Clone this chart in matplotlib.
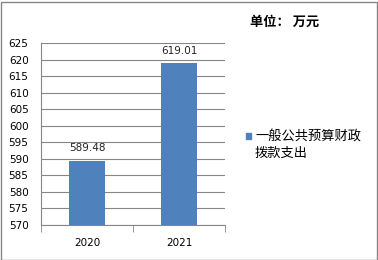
import matplotlib
matplotlib.use("Agg")
import matplotlib.pyplot as plt
from matplotlib.patches import Rectangle

plt.rcParams['font.family'] = ['DejaVu Sans', 'Noto Sans CJK SC']

years = ['2020', '2021']
values = [589.48, 619.01]
series_name = '一般公共预算财政\n拨款支出'
unit_text = '单位： 万元'
y_ticks = list(range(570, 626, 5))

fig = plt.figure(figsize=(3.78, 2.6), dpi=100)
ax = fig.add_axes([41 / 378, 1 - 225 / 260, 184 / 378, 182 / 260])

x = range(len(years))
bars = ax.bar(x, values, width=0.4, color='#4F81BD', zorder=3)
for b, v in zip(bars, values):
    ax.text(b.get_x() + b.get_width() / 2, v + 2.2, '%.2f' % v,
            ha='center', va='bottom', fontsize=7.5, color='#222222')

ax.set_ylim(570, 625)
ax.set_xlim(-0.5, 1.5)
ax.set_yticks(y_ticks)
ax.yaxis.grid(True, color='#868686', linewidth=0.8, zorder=0)
ax.set_xticks(x)
ax.set_xticklabels(years)
ax.set_xticks([-0.5, 0.5, 1.5], minor=True)
ax.tick_params(axis='x', which='major', length=0, pad=9, labelsize=7.5)
ax.tick_params(axis='x', which='minor', length=5, color='#868686')
ax.tick_params(axis='y', length=0, pad=9, labelsize=7.5)
for s in ['top', 'right']:
    ax.spines[s].set_visible(False)
ax.spines['left'].set_color('#868686')
ax.spines['bottom'].set_color('#868686')

# legend
fig.patches.append(Rectangle((246 / 378, 1 - 139 / 260), 5 / 378, 6 / 260,
                             transform=fig.transFigure, color='#4F81BD'))
fig.text(255 / 378, 1 - 145 / 260, series_name, fontsize=9.5, va='center',
         ha='left', linespacing=1.45, family=['Noto Sans CJK SC'])
fig.text(250 / 378, 1 - 22 / 260, unit_text, fontsize=9.5, fontweight='bold',
         va='center', ha='left', family=['Noto Sans CJK SC'])

# outer border
fig.patches.append(Rectangle((0.5 / 378, 0.5 / 260), 376 / 378, 258 / 260,
                             transform=fig.transFigure, fill=False,
                             edgecolor='#868686', linewidth=1))

fig.savefig('out.png', dpi=100)
